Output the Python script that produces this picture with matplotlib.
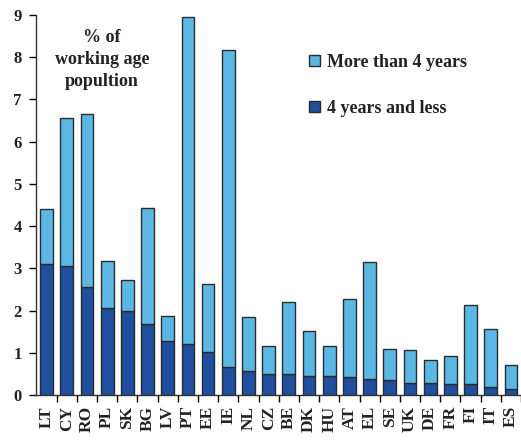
import numpy as np
import matplotlib
matplotlib.use('Agg')
import matplotlib.pyplot as plt
from matplotlib.patches import Patch

# countries and shares (% of working age population)
countries = ['LT', 'CY', 'RO', 'PL', 'SK', 'BG', 'LV', 'PT', 'EE', 'IE', 'NL', 'CZ', 'BE',
             'DK', 'HU', 'AT', 'EL', 'SE', 'UK', 'DE', 'FR', 'FI', 'IT', 'ES']
four_or_less = [3.10, 3.05, 2.55, 2.05, 2.00, 1.67, 1.28, 1.20, 1.03, 0.67, 0.57, 0.50,
                0.50, 0.46, 0.46, 0.43, 0.39, 0.36, 0.29, 0.29, 0.25, 0.25, 0.18, 0.15]
total = [4.40, 6.55, 6.65, 3.18, 2.72, 4.42, 1.88, 8.96, 2.62, 8.18, 1.85, 1.17,
         2.20, 1.52, 1.17, 2.27, 3.15, 1.10, 1.07, 0.82, 0.92, 2.14, 1.56, 0.71]
more_than_four = [t - s for t, s in zip(total, four_or_less)]

light = '#5bb8e4'
dark = '#1f4f9f'
edge = '#2b2b2b'

plt.rcParams['font.family'] = 'Liberation Serif'
plt.rcParams['font.weight'] = 'bold'

fig = plt.figure(figsize=(5.21, 4.42), dpi=100)
ax = fig.add_axes([35.5 / 521, 47 / 442, 1 - 35.5 / 521, 380 / 442])

x = np.arange(len(countries))
w = 0.63
ax.bar(x, four_or_less, w, color=dark, edgecolor=edge, linewidth=1.0)
ax.bar(x, more_than_four, w, bottom=four_or_less, color=light, edgecolor=edge, linewidth=1.0)

ax.set_xlim(-0.55, len(countries) - 0.55)
ax.set_ylim(0, 9)
ax.set_yticks(range(10))
ax.tick_params(axis='y', labelsize=12, length=5, width=1, direction='out', pad=5,
               labelcolor='#222222')

# country labels, with tick marks between categories
ax.set_xticks(x)
ax.set_xticklabels(countries, rotation=90, fontsize=12.5, color='#222222')
ax.set_xticks(np.arange(len(countries)) + 0.5, minor=True)
ax.tick_params(axis='x', which='major', length=0, pad=8)
ax.tick_params(axis='x', which='minor', length=5, width=1, direction='out')

for s in ['top', 'right']:
    ax.spines[s].set_visible(False)
for s in ['left', 'bottom']:
    ax.spines[s].set_linewidth(1.0)
    ax.spines[s].set_color('#333333')

ax.text(0.137, 0.962, '% of\nworking age\npopultion', transform=ax.transAxes,
        ha='center', va='top', fontsize=13, linespacing=1.38, color='#222222')

handles = [Patch(facecolor=light, edgecolor=edge, linewidth=1.0),
           Patch(facecolor=dark, edgecolor=edge, linewidth=1.0)]
ax.legend(handles, ['More than 4 years', '4 years and less'], loc='upper left',
          bbox_to_anchor=(0.53, 0.94), frameon=False, fontsize=13,
          handlelength=0.6, handleheight=0.6, handletextpad=0.4, labelspacing=1.6,
          labelcolor='#222222')

fig.savefig('out.png', dpi=100)
